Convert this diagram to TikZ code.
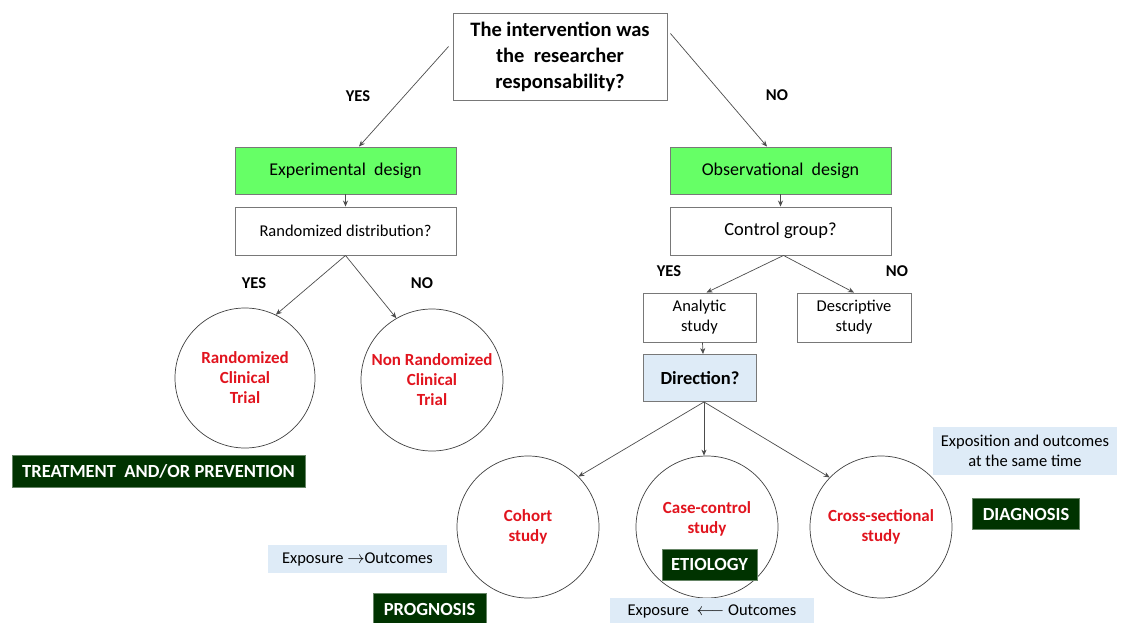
\documentclass[tikz,border=0pt]{standalone}
\usepackage{fontspec}
\setmainfont{Carlito}
\usetikzlibrary{arrows.meta}
\definecolor{boxgreen}{RGB}{102,255,102}
\definecolor{darkgreen}{RGB}{0,51,0}
\definecolor{paleblue}{RGB}{222,235,247}
\definecolor{txtred}{RGB}{225,20,30}
\definecolor{edge}{RGB}{120,120,120}

\tikzset{
  box/.style={draw=edge,line width=0.9pt,inner sep=0pt,align=center,font=\fontsize{16.5}{20}\selectfont},
  design/.style={box,fill=boxgreen,font=\fontsize{18}{20}\selectfont},
  tag/.style={fill=darkgreen,draw=darkgreen!60,text=white,inner sep=0pt,font=\bfseries\fontsize{18.5}{20}\selectfont},
  note/.style={fill=paleblue,inner sep=0pt,align=center,font=\fontsize{16.5}{20}\selectfont},
  study/.style={circle,draw=black!75,line width=0.7pt,inner sep=0pt,align=center,text=txtred,font=\bfseries\fontsize{17}{20}\selectfont},
  answer/.style={font=\bfseries\fontsize{16.5}{18}\selectfont},
  link/.style={draw=black!70,line width=0.7pt,-{Stealth[length=6pt,width=5pt]}}
}

\begin{document}
\begin{tikzpicture}[x=1pt,y=-1pt]
    \useasboundingbox (0,0) rectangle (1121,623);

    % question at the top
    \node[box,minimum width=214,minimum height=87,font=\bfseries\fontsize{20.5}{26}\selectfont] (q) at (560,56.5)
      {The intervention was\\the\ \ researcher\\responsability?};

    % experimental branch
    \node[design,minimum width=221,minimum height=47] (exp) at (345.5,170.5) {Experimental\ \ design};
    \node[box,minimum width=221,minimum height=48] (rand) at (345.5,231) {Randomized distribution?};
    \node[study,minimum size=140] (rct) at (245,378) {Randomized\\Clinical\\Trial};
    \node[study,minimum size=142] (nrct) at (432,380) {Non Randomized\\Clinical\\Trial};
    \node[tag,minimum width=293,minimum height=32] (treat) at (158.5,471) {TREATMENT\ \ AND/OR PREVENTION};

    % observational branch
    \node[design,minimum width=221,minimum height=47] (obs) at (780.5,170.5) {Observational\ \ design};
    \node[box,minimum width=221,minimum height=48,font=\fontsize{18.5}{20}\selectfont] (ctrl) at (780.5,231) {Control group?};
    \node[box,minimum width=113,minimum height=49] (ana) at (699.5,317.5) {Analytic\\study};
    \node[box,minimum width=114,minimum height=49] (desc) at (854,317.5) {Descriptive\\study};
    \node[box,fill=paleblue,minimum width=113,minimum height=47,font=\bfseries\fontsize{18.5}{20}\selectfont] (dir) at (700,378) {Direction?};

    \node[study,minimum size=142] (coh) at (528,527) {Cohort\\study};
    \node[study,minimum size=142,text depth=18pt] (cc) at (707,527) {Case-control\\study};
    \node[study,minimum size=142] (cs) at (881,527) {Cross-sectional\\study};

    % notes and labels
    \node[note,minimum width=179,minimum height=28] (fwd) at (357.5,559) {Exposure $\rightarrow$Outcomes};
    \node[tag,minimum width=113,minimum height=31] (progn) at (429.5,609) {PROGNOSIS};
    \node[tag,minimum width=95,minimum height=31] (etio) at (709.5,564.5) {ETIOLOGY};
    \node[note,minimum width=204,minimum height=27] (bwd) at (712,611) {Exposure \ $\longleftarrow$\ Outcomes};
    \node[note,minimum width=184,minimum height=48] (same) at (1025,451) {Exposition and outcomes\\at the same time};
    \node[tag,minimum width=107,minimum height=31] (diag) at (1026,514) {DIAGNOSIS};

    \node[answer] (y1) at (358,96) {YES};
    \node[answer] (n1) at (777,95) {NO};
    \node[answer] (y2) at (254,283) {YES};
    \node[answer] (n2) at (422,283) {NO};
    \node[answer] (y3) at (669,271) {YES};
    \node[answer] (n3) at (897,271) {NO};

    % connectors
    \draw[link] ([xshift=-4,yshift=10]q.west) -- ([xshift=13.5]exp.north);
    \draw[link] ([xshift=3,yshift=23]q.east) -- ([xshift=-13.5]obs.north);
    \draw[link] (exp.south) -- (rand.north);
    \draw[link] (rand.south) -- (rct.64);
    \draw[link] (rand.south) -- (nrct.120);
    \draw[link] (obs.south) -- (ctrl.north);
    \draw[link] ([xshift=3]ctrl.south) -- ([xshift=7]ana.north);
    \draw[link] ([xshift=3]ctrl.south) -- (desc.north);
    \draw[link] ([xshift=3]ana.south) -- ([xshift=3]dir.north);
    \draw[link] ([xshift=4]dir.south) -- (coh.45);
    \draw[link] ([xshift=4]dir.south) -- ([xshift=-3]cc.north);
    \draw[link] ([xshift=4]dir.south) -- (cs.136);
\end{tikzpicture}
\end{document}
